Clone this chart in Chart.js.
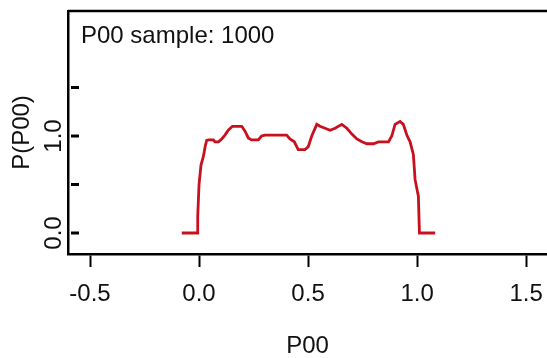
<!DOCTYPE html>
<html>
<head>
<meta charset="utf-8">
<script src="https://cdn.jsdelivr.net/npm/chart.js@4.4.1/dist/chart.umd.min.js"></script>
<style>
  html, body { margin: 0; padding: 0; background: #fff; }
  #wrap { width: 547px; height: 358px; }
</style>
</head>
<body>
<div id="wrap"><canvas id="densityChart" width="547" height="358"></canvas></div>
<script>
// density curve
const pdfX = [-0.079, -0.006, -0.006, 0.0, 0.009, 0.020, 0.028, 0.035, 0.043, 0.066, 0.073, 0.089,
    0.104, 0.119, 0.134, 0.153, 0.196, 0.211, 0.226, 0.241, 0.272, 0.287, 0.303, 0.402, 0.417,
    0.437, 0.455, 0.486, 0.501, 0.517, 0.540, 0.555, 0.578, 0.601, 0.624, 0.655, 0.678, 0.701,
    0.724, 0.747, 0.770, 0.800, 0.823, 0.869, 0.884, 0.899, 0.922, 0.937, 0.953, 0.968, 0.983,
    0.991, 1.006, 1.011, 1.083];
const pdfY = [0, 0, 0.17, 0.50, 0.70, 0.79, 0.89, 0.955, 0.96, 0.96, 0.94, 0.94,
    0.97, 1.01, 1.06, 1.10, 1.10, 1.05, 0.98, 0.96, 0.96, 1.00, 1.01, 1.01, 0.97,
    0.94, 0.86, 0.86, 0.89, 1.00, 1.12, 1.10, 1.08, 1.06, 1.08, 1.12, 1.08, 1.02,
    0.97, 0.94, 0.92, 0.92, 0.94, 0.94, 1.00, 1.12, 1.15, 1.12, 1.01, 0.94, 0.81,
    0.55, 0.38, 0, 0];

const xTickVals = [-0.5, 0.0, 0.5, 1.0, 1.5];
const yTickVals = [0.0, 0.5, 1.0, 1.5];
const yTickLabels = ['0.0', '', '1.0', ''];
const legendText = 'P00 sample: 1000';

const FONT = "'Liberation Sans', Arial, sans-serif";

// frame, inward y ticks, rotated y labels and the sample note
const framePlugin = {
    id: 'frame',
    afterDraw(chart) {
        const ctx = chart.ctx;
        const area = chart.chartArea;
        const yScale = chart.scales.y;
        ctx.save();
        ctx.strokeStyle = '#000';
        ctx.lineWidth = 2.5;
        ctx.beginPath();
        ctx.moveTo(area.left, area.top);
        ctx.lineTo(chart.width, area.top);
        ctx.stroke();

        ctx.lineWidth = 3;
        yTickVals.forEach(function(v, i) {
            const py = yScale.getPixelForValue(v);
            ctx.beginPath();
            ctx.moveTo(area.left + 3, py);
            ctx.lineTo(area.left + 11, py);
            ctx.stroke();
            if (yTickLabels[i]) {
                ctx.save();
                ctx.translate(54, py);
                ctx.rotate(-Math.PI / 2);
                ctx.fillStyle = '#111';
                ctx.font = '24px ' + FONT;
                ctx.textAlign = 'center';
                ctx.textBaseline = 'middle';
                ctx.fillText(yTickLabels[i], 0, 0);
                ctx.restore();
            }
        });

        ctx.fillStyle = '#111';
        ctx.font = '24px ' + FONT;
        ctx.textAlign = 'left';
        ctx.textBaseline = 'alphabetic';
        ctx.fillText(legendText, area.left + 13, area.top + 32);
        ctx.restore();
    }
};

const ctx = document.getElementById('densityChart').getContext('2d');
new Chart(ctx, {
    type: 'line',
    data: {
        datasets: [{
            label: 'P(P00)',
            data: pdfX.map(function(x, i) { return { x: x, y: pdfY[i] }; }),
            borderColor: '#c8101e',
            borderWidth: 2.8,
            pointRadius: 0,
            tension: 0,
            fill: false
        }]
    },
    options: {
        responsive: false,
        animation: false,
        layout: { padding: { top: 11, left: 0, right: 0, bottom: 0 } },
        plugins: {
            legend: { display: false },
            tooltip: { enabled: false }
        },
        scales: {
            x: {
                type: 'linear',
                min: -0.601,
                max: 1.596,
                afterFit: function(scale) {
                    scale.height = 104;
                    scale.paddingLeft = 0;
                    scale.paddingRight = 0;
                },
                afterBuildTicks: function(scale) {
                    scale.ticks = xTickVals.map(function(v) { return { value: v }; });
                },
                grid: {
                    display: true,
                    drawOnChartArea: false,
                    tickLength: 13,
                    tickWidth: 2,
                    tickColor: '#000'
                },
                border: { display: true, color: '#000', width: 2.5 },
                ticks: {
                    padding: 3,
                    color: '#111',
                    font: { family: FONT, size: 24, lineHeight: 2.0 },
                    maxRotation: 0,
                    callback: function(value) { return value.toFixed(1); }
                },
                title: {
                    display: true,
                    text: 'P00',
                    color: '#111',
                    font: { family: FONT, size: 24 },
                    padding: { top: 0, bottom: -3 }
                }
            },
            y: {
                min: -0.2165,
                max: 2.289,
                afterFit: function(scale) { scale.width = 68; },
                afterBuildTicks: function(scale) {
                    scale.ticks = yTickVals.map(function(v) { return { value: v }; });
                },
                grid: { display: false },
                border: { display: true, color: '#000', width: 2.5 },
                ticks: { display: false },
                title: {
                    display: true,
                    text: 'P(P00)',
                    color: '#111',
                    font: { family: FONT, size: 24 },
                    padding: { top: 8, bottom: 0 }
                }
            }
        }
    },
    plugins: [framePlugin]
});
</script>
</body>
</html>
